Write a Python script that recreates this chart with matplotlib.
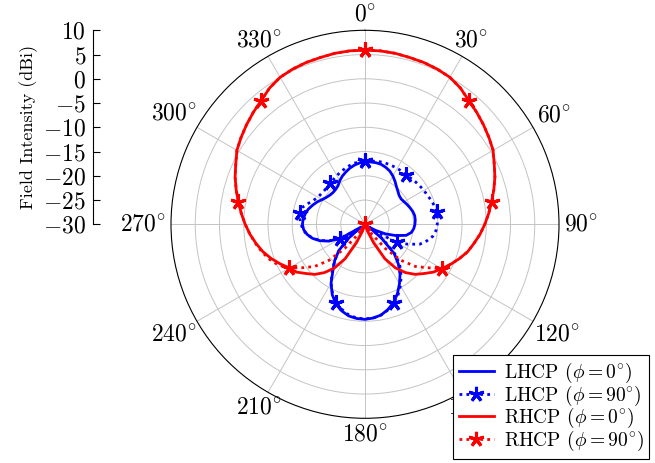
import numpy as np
import matplotlib
matplotlib.use("Agg")
import matplotlib.pyplot as plt

plt.rcParams['font.family'] = 'serif'
plt.rcParams['font.serif'] = ['cmr10', 'DejaVu Serif']
plt.rcParams['mathtext.fontset'] = 'cm'
plt.rcParams['axes.formatter.use_mathtext'] = True

# angles in degrees, 5 degree steps (0..355)
angles = np.arange(0, 360, 5)

# LHCP, phi = 0 deg (dBi)
lhcp_0 = [-17.2, -17.1, -17.1, -17.2, -17.5, -17.9, -18.5, -19.2, -19.9, -20.4,
          -20.8, -20.9, -20.7, -20.4, -20.1, -19.8, -19.6, -19.6, -19.7, -19.9,
          -20.3, -21.2, -23.2, -25.3, -27.5, -29.0, -25.5, -21.5, -19.3, -17.4,
          -15.8, -14.2, -12.8, -11.8, -11.0, -10.6, -10.4, -10.5, -10.8, -11.5,
          -12.5, -14.0, -16.0, -18.5, -20.3, -22.4, -25.8, -29.0, -24.2, -21.8,
          -20.1, -18.8, -17.9, -17.3, -17.1, -17.2, -17.5, -17.9, -18.5, -19.1,
          -19.8, -20.3, -20.6, -20.7, -20.6, -20.3, -19.6, -19.0, -18.5, -18.0,
          -17.6, -17.3]

# LHCP, phi = 90 deg (dBi)
lhcp_90 = [-17.0, -16.9, -16.8, -16.7, -16.7, -16.7, -16.7, -16.7, -16.7, -16.6,
           -16.4, -16.2, -16.0, -15.8, -15.5, -15.2, -15.0, -15.0, -15.1, -15.3,
           -15.8, -16.8, -18.0, -20.3, -22.5, -28.0, -25.0, -21.0, -18.8, -17.0,
           -15.4, -13.9, -12.7, -11.7, -11.0, -10.6, -10.5, -10.6, -11.0, -11.8,
           -12.8, -14.2, -16.0, -18.2, -20.3, -22.5, -25.5, -28.5, -24.1, -22.0,
           -20.2, -18.9, -17.8, -17.2, -16.8, -16.5, -16.3, -16.6, -17.5, -18.3,
           -18.8, -19.0, -19.1, -19.0, -18.9, -18.7, -18.4, -18.1, -17.8, -17.5,
           -17.2, -17.1]

# RHCP, phi = 0 deg (dBi)
rhcp_0 = [5.9, 5.9, 5.8, 5.6, 5.5, 5.3, 5.0, 4.3, 3.3, 2.6,
          1.9, 1.2, 0.5, -0.6, -1.5, -2.5, -3.5, -4.4, -5.3, -6.2,
          -7.2, -8.1, -9.3, -10.5, -11.7, -12.8, -14.2, -15.4, -17.0, -19.0,
          -21.8, -25.8, -28.5, -30.0, -30.0, -30.0, -30.0, -30.0, -30.0, -30.0,
          -28.5, -25.8, -21.8, -19.0, -17.0, -15.4, -14.2, -12.8, -12.0, -10.7,
          -9.4, -8.2, -7.2, -6.2, -5.3, -4.4, -3.5, -2.5, -1.5, -0.6,
          0.5, 1.2, 1.9, 2.6, 3.3, 4.3, 5.0, 5.3, 5.5, 5.6,
          5.8, 5.9]

# RHCP, phi = 90 deg (dBi)
rhcp_90 = [5.9, 5.9, 5.8, 5.6, 5.5, 5.3, 5.0, 4.3, 3.3, 2.6,
           1.9, 1.2, 0.5, -0.6, -1.5, -2.5, -3.5, -4.4, -5.3, -6.2,
           -7.2, -8.1, -9.3, -10.5, -11.7, -14.4, -16.5, -19.5, -23.5, -27.5,
           -30.0, -30.0, -30.0, -30.0, -30.0, -30.0, -30.0, -30.0, -30.0, -30.0,
           -30.0, -30.0, -30.0, -27.5, -23.5, -19.5, -16.5, -14.4, -12.0, -10.2,
           -9.0, -8.0, -7.1, -6.2, -5.3, -4.4, -3.5, -2.5, -1.5, -0.6,
           0.5, 1.2, 1.9, 2.6, 3.3, 4.3, 5.0, 5.3, 5.5, 5.6,
           5.8, 5.9]

labels = [r'LHCP ($\phi = 0^{\circ}$)', r'LHCP ($\phi = 90^{\circ}$)',
          r'RHCP ($\phi = 0^{\circ}$)', r'RHCP ($\phi = 90^{\circ}$)']

theta_ticks = np.arange(0, 360, 30)
rmin, rmax = -30, 10


def closed(vals):
    # close the loop and keep values at the plot floor
    v = np.clip(np.array(vals + vals[:1]), rmin, None)
    return v


theta = np.deg2rad(np.append(angles, 360))

W, H = 655, 463
fig = plt.figure(figsize=(W / 100, H / 100), dpi=100)

cx, cy, R = 365, 224.3, 194
ax = fig.add_axes([(cx - R) / W, (H - cy - R) / H, 2 * R / W, 2 * R / H], projection='polar')
ax.set_theta_zero_location('N')
ax.set_theta_direction(-1)
ax.set_rlim(rmin, rmax)
ax.set_rticks(np.arange(-25, 10, 5))
ax.set_yticklabels([])
ax.set_thetagrids(theta_ticks, [''] * len(theta_ticks))
ax.grid(True, color='#c4c4c4', linewidth=0.7)
ax.spines['polar'].set_linewidth(0.8)

star = (5, 2, 0)
ax.plot(theta, closed(lhcp_0), color='blue', lw=2, label=labels[0])
ax.plot(theta, closed(lhcp_90), color='blue', lw=2, ls=(0, (1, 1.5)), marker=star,
        markevery=8, markersize=11, mew=2.2, label=labels[1])
ax.plot(theta, closed(rhcp_0), color='red', lw=2, label=labels[2])
ax.plot(theta, closed(rhcp_90), color='red', lw=2, ls=(0, (1, 1.5)), marker=star,
        markevery=8, markersize=11, mew=2.2, label=labels[3])

# angle labels anchored on the side facing the circle (like pgfplots)
fig.canvas.draw()
renderer = fig.canvas.get_renderer()
pad = 5
for a in theta_ticks:
    t = fig.text(0, 0, r'$%d^{\circ}$' % a, fontsize=17, ha='center', va='center')
    bb = t.get_window_extent(renderer)
    hw, hh = bb.width / 2, bb.height / 2
    ux, uy = np.sin(np.deg2rad(a)), np.cos(np.deg2rad(a))
    d = min(hw / abs(ux) if abs(ux) > 1e-9 else np.inf,
            hh / abs(uy) if abs(uy) > 1e-9 else np.inf)
    px = cx + (R + pad + d) * ux
    py = (H - cy) + (R + pad + d) * uy
    t.set_position((px / W, py / H))

# separate radial scale on the left
ax2 = fig.add_axes([93 / W, (H - cy) / H, 0.05, R / H])
ax2.set_ylim(rmin, rmax)
ax2.set_yticks(np.arange(-30, 11, 5))
ax2.set_xticks([])
for s in ['top', 'right', 'bottom']:
    ax2.spines[s].set_visible(False)
ax2.spines['left'].set_linewidth(0.8)
ax2.patch.set_alpha(0)
ax2.tick_params(axis='y', direction='in', length=5, width=0.8, pad=5, labelsize=17)
ax2.set_ylabel('Field Intensity (dBi)', fontsize=13, labelpad=4)

handles, _ = ax.get_legend_handles_labels()
leg = fig.legend(handles, labels, loc='upper left',
                 bbox_to_anchor=(453 / W, (H - 355) / H), fontsize=14, frameon=True,
                 fancybox=False, framealpha=1, edgecolor='black', borderaxespad=0,
                 borderpad=0.3, labelspacing=-0.08, handlelength=1.8, handletextpad=0.5)
leg.get_frame().set_linewidth(0.8)
leg.set_zorder(10)

plt.savefig('out.png', dpi=100)
